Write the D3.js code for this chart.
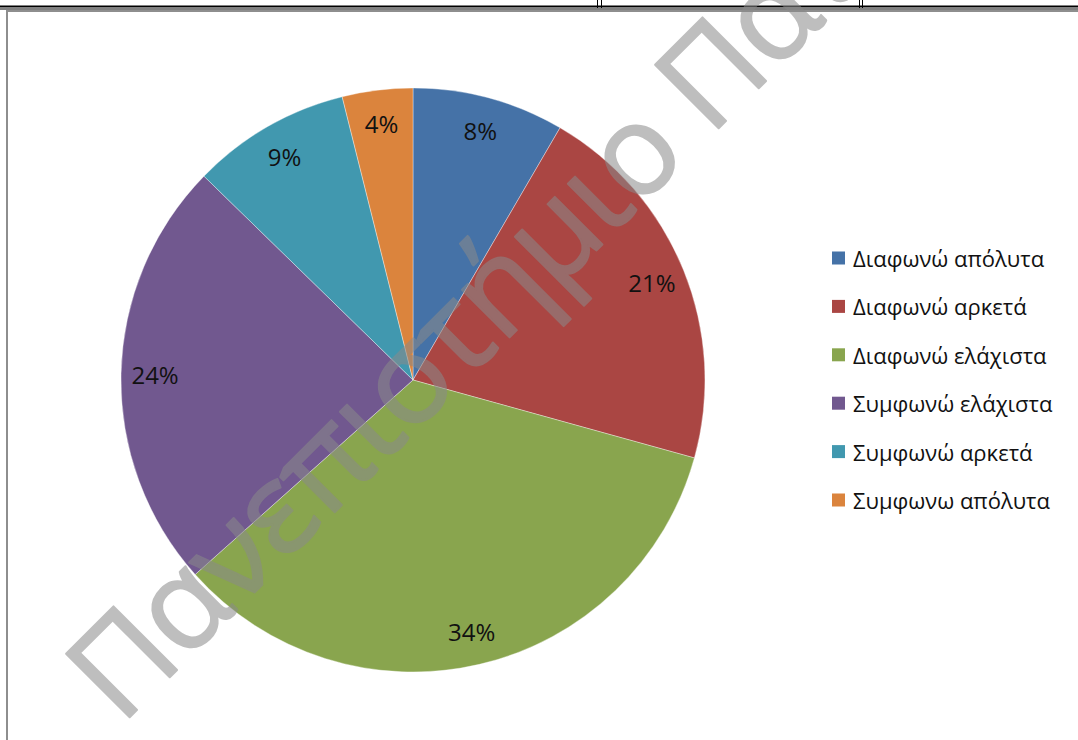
<!DOCTYPE html>
<html>
<head>
<meta charset="utf-8">
<script src="https://cdn.jsdelivr.net/npm/d3@7"></script>
<style>
  html, body { margin: 0; padding: 0; background: #fff; }
  svg { display: block; font-family: "Open Sans", "Noto Sans", sans-serif; }
</style>
</head>
<body>
<div id="chart"></div>
<script>
// answers (share of responses, %)
const categories = [
    "Διαφωνώ απόλυτα",
    "Διαφωνώ αρκετά",
    "Διαφωνώ ελάχιστα",
    "Συμφωνώ ελάχιστα",
    "Συμφωνώ αρκετά",
    "Συμφωνω απόλυτα"
]
const values = [8.4, 20.9, 34.1, 23.9, 8.8, 3.9]
const colors = ["#4572A7", "#AA4643", "#89A54E", "#71588F", "#4198AF", "#DB843D"]
const watermark = "Πανεπιστήμιο Πατρών"

const width = 1078, height = 740
const cx = 413, cy = 380, radius = 292, labelRadius = 258

const svg = d3.select("#chart")
    .append("svg")
    .attr("width", width)
    .attr("height", height)

// page borders above the chart (table lines of the document)
const frame = svg.append("g")
frame.append("line").attr("x1", 0).attr("x2", width).attr("y1", 6.5).attr("y2", 6.5)
    .attr("stroke", "#000").attr("stroke-width", 2)
frame.append("line").attr("x1", 0).attr("x2", width).attr("y1", 9).attr("y2", 9)
    .attr("stroke", "#000").attr("stroke-width", 1)
;[597.5, 601.5, 859.5, 862.5].forEach(x => {
    frame.append("line").attr("x1", x).attr("x2", x).attr("y1", 0).attr("y2", 8)
        .attr("stroke", "#000").attr("stroke-width", 1)
})
frame.append("path")
    .attr("d", `M7,${height} L7,11 L${width},11`)
    .attr("fill", "none")
    .attr("stroke", "#8e8e8e")
    .attr("stroke-width", 2)

// pie
const pie = d3.pie().sort(null).value(d => d)
const arcs = pie(values)
const arc = d3.arc().innerRadius(0).outerRadius(radius)
const labelArc = d3.arc().innerRadius(labelRadius).outerRadius(labelRadius)

const g = svg.append("g").attr("transform", `translate(${cx},${cy})`)
g.selectAll("path.slice")
    .data(arcs)
    .join("path")
    .attr("class", "slice")
    .attr("d", arc)
    .attr("fill", (d, i) => colors[i])
    .attr("stroke", "#fff")
    .attr("stroke-opacity", 0.45)
    .attr("stroke-width", 0.8)

g.selectAll("text.label")
    .data(arcs)
    .join("text")
    .attr("class", "label")
    .attr("transform", d => `translate(${labelArc.centroid(d)})`)
    .attr("text-anchor", "middle")
    .attr("dominant-baseline", "central")
    .attr("font-size", 24)
    .attr("fill", "#111")
    .text(d => Math.round(d.value) + "%")

// legend
const legend = svg.append("g").attr("transform", "translate(832,258)")
const rows = legend.selectAll("g")
    .data(categories)
    .join("g")
    .attr("transform", (d, i) => `translate(0,${i * 48.4})`)
rows.append("rect")
    .attr("x", 0).attr("y", -6.5)
    .attr("width", 13).attr("height", 13)
    .attr("fill", (d, i) => colors[i])
rows.append("text")
    .attr("x", 21)
    .attr("dominant-baseline", "central")
    .attr("font-size", 22)
    .attr("fill", "#111")
    .text(d => d)

// watermark
const fs = 126
const wm = svg.append("text")
    .attr("transform", "translate(121,726) rotate(-45)")
    .attr("font-size", fs)
    .attr("fill", "#8a8a8a")
    .attr("stroke", "#8a8a8a")
    .attr("stroke-width", 2)
    .attr("stroke-linejoin", "round")
    .attr("opacity", 0.55)
    .text(watermark)
// spread letters so the second word starts where it does in the picture
const probe = svg.append("text").attr("font-size", fs).text("Πανεπιστήμιο\u00a0")
const w = probe.node().getComputedTextLength()
probe.remove()
wm.attr("letter-spacing", (833 - w) / 13)
</script>
</body>
</html>
